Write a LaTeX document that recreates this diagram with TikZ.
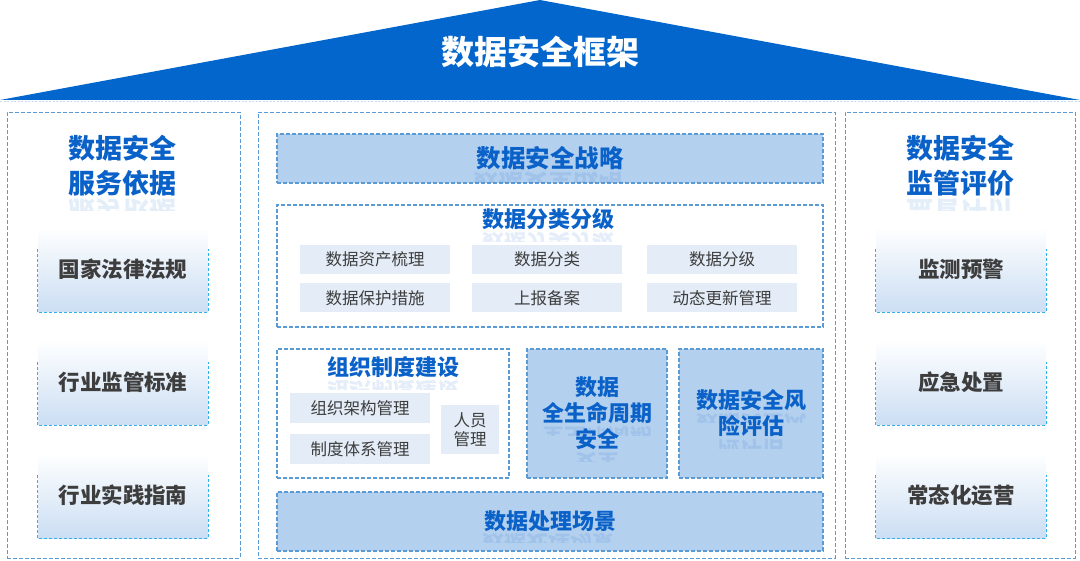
\documentclass[tikz,border=0pt]{standalone}
\usepackage{fontspec}
\setmainfont{Noto Sans CJK SC}
\definecolor{roofblue}{RGB}{3,102,204}
\definecolor{titleblue}{RGB}{10,98,201}
\definecolor{fillblue}{RGB}{180,208,239}
\definecolor{dashblue}{RGB}{91,155,213}
\definecolor{subfill}{RGB}{227,236,247}
\definecolor{textgray}{RGB}{61,61,61}
\definecolor{gradblue}{RGB}{203,222,243}
\definecolor{cyandash}{RGB}{52,177,236}
\definecolor{faintline}{RGB}{197,220,242}
\newcommand\fsz[1]{\fontsize{#1}{#1}\selectfont}
\newcommand\reflecttext[5]{%
  \begin{scope}
    \clip (#2-130,#3+0.56*#4) rectangle (#2+130,#3+0.56*#4+0.45*#4);
    \node[reflnode, font=\fontsize{#4}{#4}\selectfont\bfseries] (#1) at (#2,#3+1.08*#4) {#5};
  \end{scope}}
\begin{document}
\begin{tikzpicture}[x=1pt,y=-1pt,
  dashy/.style={dash pattern=on 4pt off 2pt},
  colbox/.style={draw=dashblue, dashy, line width=0.9pt, inner sep=0pt},
  bar/.style={draw=dashblue, fill=fillblue, dashy, line width=1.1pt, inner sep=0pt,
     text=titleblue, font=\fsz{24.5}\bfseries},
  bluebox/.style={draw=dashblue, fill=fillblue, dashy, line width=1.1pt, inner sep=0pt,
     text=titleblue, font=\fontsize{22}{26}\selectfont\bfseries, align=center},
  wbox/.style={draw=dashblue, fill=white, dashy, line width=1.1pt, inner sep=0pt},
  subbox/.style={fill=subfill, text=textgray, inner sep=0pt, font=\fsz{16.5}, align=center},
  bluetitle/.style={text=titleblue, inner sep=0pt, font=\fsz{22}\bfseries},
  coltitle/.style={text=titleblue, inner sep=0pt, font=\fontsize{27}{35}\selectfont\bfseries, align=center},
  sidebox/.style={shade, top color=white, bottom color=gradblue, inner sep=0pt,
     minimum width=170, minimum height=85, text=textgray, font=\fsz{21.5}\bfseries},
  sideedge/.style={draw=cyandash, dash pattern=on 3pt off 2pt, line width=0.9pt},
  reflnode/.style={yscale=-1, text=titleblue, opacity=0.11, inner sep=0pt}
]
\useasboundingbox (0,0) rectangle (1080,561);
% roof
\fill[roofblue] (0,100) -- (540,0) -- (1080,100) -- cycle;
\draw[faintline, dash pattern=on 2pt off 1.5pt, line width=0.8pt] (0,101) -- (1080,101);
\node[text=white, inner sep=0pt, font=\fsz{33}\bfseries] (roof) at (540,52) {数据安全框架};

% columns
\node[colbox, minimum width=233, minimum height=446] (leftcol) at (123.5,335) {};
\node[colbox, minimum width=577, minimum height=446] (midcol) at (546.5,335) {};
\node[colbox, minimum width=230, minimum height=446] (rightcol) at (960,335) {};

% left column
\node[coltitle] (lt) at (122,165.5) {数据安全\\服务依据};
\node[sidebox] (l1) at (123,269.5) {国家法律法规};
\node[sidebox] (l2) at (123,382.5) {行业监管标准};
\node[sidebox] (l3) at (123,495.5) {行业实践指南};
% right column
\node[coltitle] (rt) at (960,165.5) {数据安全\\监管评价};
\node[sidebox] (r1) at (961,269.5) {监测预警};
\node[sidebox] (r2) at (961,382.5) {应急处置};
\node[sidebox] (r3) at (961,495.5) {常态化运营};
\foreach \b in {l1,l2,l3,r1,r2,r3}{
  \draw[sideedge] ([yshift=-22pt]\b.north west) -- (\b.south west) -- (\b.south east) -- ([yshift=-22pt]\b.north east);
}

% center
\node[bar, minimum width=546, minimum height=49] (strat) at (550,158.5) {数据安全战略};
\node[wbox, minimum width=546, minimum height=122] (cls) at (550,266) {};
\node[bluetitle] (clst) at (548,219) {数据分类分级};
\node[subbox, minimum width=150, minimum height=29] (s11) at (375,259.5) {数据资产梳理};
\node[subbox, minimum width=150, minimum height=29] (s12) at (547,259.5) {数据分类};
\node[subbox, minimum width=150, minimum height=29] (s13) at (722,259.5) {数据分级};
\node[subbox, minimum width=150, minimum height=29] (s21) at (375,298) {数据保护措施};
\node[subbox, minimum width=150, minimum height=29] (s22) at (547,298) {上报备案};
\node[subbox, minimum width=150, minimum height=29] (s23) at (722,298) {动态更新管理};

\node[wbox, minimum width=232, minimum height=129] (org) at (393,413.5) {};
\node[bluetitle] (orgt) at (393,367) {组织制度建设};
\node[subbox, minimum width=140, minimum height=30] (o1) at (360,408) {组织架构管理};
\node[subbox, minimum width=140, minimum height=30] (o2) at (360,449.5) {制度体系管理};
\node[subbox, minimum width=58, minimum height=49, font=\fontsize{16.5}{19}\selectfont] (o3) at (470,429.5) {人员\\管理};

\node[bluebox, minimum width=140, minimum height=129] (life) at (597,413.5) {数据\\全生命周期\\安全};
\node[bluebox, minimum width=144, minimum height=129] (risk) at (751,413.5) {数据安全风\\险评估};

\node[bar, minimum width=546, minimum height=59, font=\fsz{22}\bfseries] (proc) at (550,521.5) {数据处理场景};

% reflections
\reflecttext{rf1}{122}{183}{27}{服务依据}
\reflecttext{rf2}{960}{183}{27}{监管评价}
\reflecttext{rf3}{548}{157}{25}{数据安全战略}
\reflecttext{rf4}{548}{219}{22}{数据分类分级}
\reflecttext{rf5}{393}{367}{22}{组织制度建设}
\reflecttext{rf6}{597}{413}{22}{全生命周期}
\reflecttext{rf7}{597}{439}{22}{安全}
\reflecttext{rf8}{751}{400}{22}{数据安全风}
\reflecttext{rf9}{751}{426}{22}{险评估}
\reflecttext{rf10}{548}{520}{22}{数据处理场景}
\end{tikzpicture}
\end{document}
